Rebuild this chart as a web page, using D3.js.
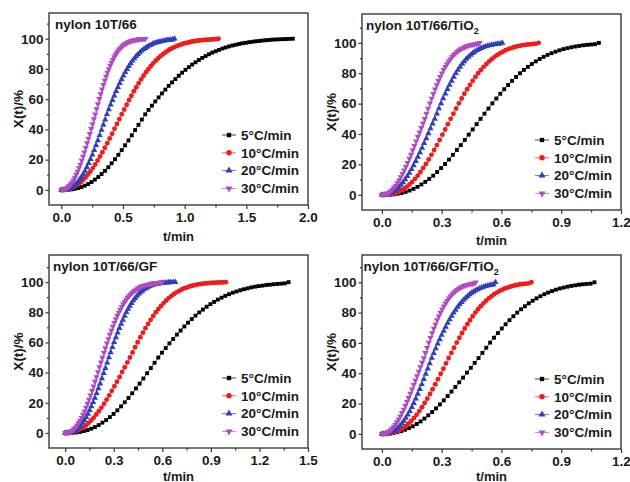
<!DOCTYPE html>
<html><head><meta charset="utf-8">
<script src="https://cdn.jsdelivr.net/npm/d3@7/dist/d3.min.js"></script>
<style>body{margin:0;background:#fff}</style>
</head><body><svg id="c" width="630" height="482"></svg>
<script>
// ---------- data ----------
const seriesLabels = ["5\u00B0C/min", "10\u00B0C/min", "20\u00B0C/min", "30\u00B0C/min"];
const panelTitles = ["nylon 10T/66", "nylon 10T/66/TiO", "nylon 10T/66/GF", "nylon 10T/66/GF/TiO"];
const panelSubs = ["", "2", "", "2"];
const yTicks = [0, 20, 40, 60, 80, 100];
const yMinor = [10, 30, 50, 70, 90, 110];
const p1XTicks = [0.0, 0.5, 1.0, 1.5, 2.0];
const p1XMinor = [0.25, 0.75, 1.25, 1.75];
const p2XTicks = [0.0, 0.3, 0.6, 0.9, 1.2];
const p2XMinor = [0.15, 0.45, 0.75, 1.05];
const p3XTicks = [0.0, 0.3, 0.6, 0.9, 1.2, 1.5];
const p3XMinor = [0.15, 0.45, 0.75, 1.05, 1.35];
const p4XTicks = [0.0, 0.3, 0.6, 0.9, 1.2];
const p4XMinor = [0.15, 0.45, 0.75, 1.05];

// time step (min) between successive points of each series: 5, 10, 20, 30 C/min
const p1Steps = [0.0272, 0.0196, 0.0148, 0.011];
const p2Steps = [0.0198, 0.0138, 0.0106, 0.0086];
const p3Steps = [0.023, 0.016, 0.0108, 0.0092];
const p4Steps = [0.0194, 0.0134, 0.01, 0.0084];

// X(t) % values
const p1Black = [0,0,0.1,0.3,0.7,1.2,1.9,2.8,3.9,5.2,6.8,8.5,10.5,12.6,15.0,17.6,20.3,23.2,26.3,29.5,32.7,36.1,39.6,43.0,46.5,50.0,
 52.9,55.7,58.5,61.2,63.8,66.3,68.8,71.1,73.3,75.5,77.5,79.4,81.2,82.9,84.4,85.9,87.3,88.5,89.7,90.8,91.7,92.6,93.5,94.2,94.9,95.5,96.0,96.5,97.0,97.3,97.7,98.0,98.3,98.5,98.8,99.0,99.2,99.4,99.5,99.6,99.7,99.8,99.9,100];
const p1Red = [0,0.1,0.2,0.6,1.1,1.8,2.7,3.8,5.0,6.5,8.2,10.1,12.2,14.4,16.8,19.4,22.1,24.9,27.9,30.9,34.0,37.1,40.4,43.6,46.8,50.0,
 53.2,56.3,59.4,62.3,65.2,67.9,70.6,73.1,75.5,77.8,79.9,81.8,83.7,85.4,86.9,88.4,89.7,90.9,92.0,93.0,93.8,94.6,95.3,95.9,96.5,97.0,97.4,97.7,98.1,98.3,98.6,98.8,99.0,99.2,99.3,99.4,99.5,99.6,99.7,100];
const p1Blue = [0,0,0.1,0.3,0.7,1.2,1.9,2.8,3.9,5.2,6.8,8.5,10.5,12.6,15.0,17.6,20.3,23.2,26.3,29.5,32.7,36.1,39.6,43.0,46.5,50.0,
 53.2,56.3,59.4,62.3,65.2,67.9,70.6,73.1,75.5,77.8,79.9,81.8,83.7,85.4,86.9,88.4,89.7,90.9,92.0,93.0,93.8,94.6,95.3,95.9,96.5,97.0,97.4,97.7,98.1,98.3,98.6,98.8,99.0,99.2,99.3,99.4,100];
const p1Purple = [0,0.1,0.2,0.6,1.1,1.8,2.7,3.8,5.0,6.5,8.2,10.1,12.2,14.4,16.8,19.4,22.1,24.9,27.9,30.9,34.0,37.1,40.4,43.6,46.8,50.0,
 53.4,56.8,60.2,63.4,66.5,69.5,72.3,75.0,77.6,80.0,82.2,84.2,86.1,87.8,89.4,90.8,92.1,93.2,94.2,95.1,95.9,96.5,97.1,97.6,98.0,98.4,98.7,98.9,99.1,99.3,99.5,99.6,99.7,99.8,99.8,99.9,100];

const p2Black = [0,0,0.1,0.3,0.7,1.2,1.9,2.8,3.9,5.2,6.8,8.5,10.5,12.6,15.0,17.6,20.3,23.2,26.3,29.5,32.7,36.1,39.6,43.0,46.5,50.0,
 53.4,56.8,60.2,63.4,66.5,69.5,72.3,75.0,77.6,80.0,82.2,84.2,86.1,87.8,89.4,90.8,92.1,93.2,94.2,95.1,95.9,96.5,97.1,97.6,98.0,98.4,98.7,98.9,99.1,100];
const p2Red = [0,0,0.1,0.3,0.7,1.2,1.9,2.8,3.9,5.2,6.8,8.5,10.5,12.6,15.0,17.6,20.3,23.2,26.3,29.5,32.7,36.1,39.6,43.0,46.5,50.0,
 53.4,56.8,60.2,63.4,66.5,69.5,72.3,75.0,77.6,80.0,82.2,84.2,86.1,87.8,89.4,90.8,92.1,93.2,94.2,95.1,95.9,96.5,97.1,97.6,98.0,98.4,98.7,98.9,99.1,99.3,99.5,100];
const p2Blue = [0,0.1,0.2,0.6,1.1,1.8,2.7,3.8,5.0,6.5,8.2,10.1,12.2,14.4,16.8,19.4,22.1,24.9,27.9,30.9,34.0,37.1,40.4,43.6,46.8,50.0,
 53.4,56.8,60.2,63.4,66.5,69.5,72.3,75.0,77.6,80.0,82.2,84.2,86.1,87.8,89.4,90.8,92.1,93.2,94.2,95.1,95.9,96.5,97.1,97.6,98.0,98.4,98.7,98.9,99.1,99.3,99.5,100];
const p2Purple = [0,0.1,0.3,0.8,1.5,2.3,3.4,4.7,6.1,7.8,9.6,11.6,13.8,16.1,18.5,21.1,23.8,26.5,29.4,32.3,35.2,38.1,41.1,44.1,47.0,50.0,
 53.4,56.8,60.2,63.4,66.5,69.5,72.3,75.0,77.6,80.0,82.2,84.2,86.1,87.8,89.4,90.8,92.1,93.2,94.2,95.1,95.9,96.5,97.1,97.6,98.0,98.4,98.7,98.9,99.1,99.3,99.5,100];

const p3Black = [0,0,0.1,0.3,0.7,1.2,1.9,2.8,3.9,5.2,6.8,8.5,10.5,12.6,15.0,17.6,20.3,23.2,26.3,29.5,32.7,36.1,39.6,43.0,46.5,50.0,
 53.2,56.3,59.4,62.3,65.2,67.9,70.6,73.1,75.5,77.8,79.9,81.8,83.7,85.4,86.9,88.4,89.7,90.9,92.0,93.0,93.8,94.6,95.3,95.9,96.5,97.0,97.4,97.7,98.1,98.3,98.6,98.8,99.0,99.2,100];
const p3Red = [0,0.1,0.2,0.6,1.1,1.8,2.7,3.8,5.0,6.5,8.2,10.1,12.2,14.4,16.8,19.4,22.1,24.9,27.9,30.9,34.0,37.1,40.4,43.6,46.8,50.0,
 53.4,56.8,60.2,63.4,66.5,69.5,72.3,75.0,77.6,80.0,82.2,84.2,86.1,87.8,89.4,90.8,92.1,93.2,94.2,95.1,95.9,96.5,97.1,97.6,98.0,98.4,98.7,98.9,99.1,99.3,99.5,99.6,99.7,99.8,99.8,99.9,100];
const p3Blue = [0,0,0.1,0.3,0.7,1.2,1.9,2.8,3.9,5.2,6.8,8.5,10.5,12.6,15.0,17.6,20.3,23.2,26.3,29.5,32.7,36.1,39.6,43.0,46.5,50.0,
 53.4,56.8,60.2,63.4,66.5,69.5,72.3,75.0,77.6,80.0,82.2,84.2,86.1,87.8,89.4,90.8,92.1,93.2,94.2,95.1,95.9,96.5,97.1,97.6,98.0,98.4,98.7,98.9,99.1,99.3,99.5,99.6,99.7,99.8,99.8,99.9,99.9,100];
const p3Purple = [0,0.1,0.2,0.6,1.1,1.8,2.7,3.8,5.0,6.5,8.2,10.1,12.2,14.4,16.8,19.4,22.1,24.9,27.9,30.9,34.0,37.1,40.4,43.6,46.8,50.0,
 53.2,56.3,59.4,62.3,65.2,67.9,70.6,73.1,75.5,77.8,79.9,81.8,83.7,85.4,86.9,88.4,89.7,90.9,92.0,93.0,93.8,94.6,95.3,95.9,96.5,97.0,97.4,97.7,98.1,98.3,98.6,98.8,99.0,99.2,99.3,99.4,99.5,99.6,99.7,100];

const p4Black = [0,0.1,0.2,0.6,1.1,1.8,2.7,3.8,5.0,6.5,8.2,10.1,12.2,14.4,16.8,19.4,22.1,24.9,27.9,30.9,34.0,37.1,40.4,43.6,46.8,50.0,
 53.4,56.8,60.2,63.4,66.5,69.5,72.3,75.0,77.6,80.0,82.2,84.2,86.1,87.8,89.4,90.8,92.1,93.2,94.2,95.1,95.9,96.5,97.1,97.6,98.0,98.4,98.7,98.9,99.1,100];
const p4Red = [0,0,0.1,0.3,0.7,1.2,1.9,2.8,3.9,5.2,6.8,8.5,10.5,12.6,15.0,17.6,20.3,23.2,26.3,29.5,32.7,36.1,39.6,43.0,46.5,50.0,
 53.4,56.8,60.2,63.4,66.5,69.5,72.3,75.0,77.6,80.0,82.2,84.2,86.1,87.8,89.4,90.8,92.1,93.2,94.2,95.1,95.9,96.5,97.1,97.6,98.0,98.4,98.7,98.9,99.1,99.3,100];
const p4Blue = [0,0,0.1,0.3,0.7,1.2,1.9,2.8,3.9,5.2,6.8,8.5,10.5,12.6,15.0,17.6,20.3,23.2,26.3,29.5,32.7,36.1,39.6,43.0,46.5,50.0,
 53.2,56.3,59.4,62.3,65.2,67.9,70.6,73.1,75.5,77.8,79.9,81.8,83.7,85.4,86.9,88.4,89.7,90.9,92.0,93.0,93.8,94.6,95.3,95.9,96.5,97.0,97.4,97.7,98.1,98.3,98.6,100];
const p4Purple = [0,0.1,0.3,0.8,1.5,2.3,3.4,4.7,6.1,7.8,9.6,11.6,13.8,16.1,18.5,21.1,23.8,26.5,29.4,32.3,35.2,38.1,41.1,44.1,47.0,50.0,
 53.4,56.8,60.2,63.4,66.5,69.5,72.3,75.0,77.6,80.0,82.2,84.2,86.1,87.8,89.4,90.8,92.1,93.2,94.2,95.1,95.9,96.5,97.1,97.6,98.0,98.4,98.7,98.9,99.1,99.3,100];

// ---------- styling / layout ----------
const FONT = "'Liberation Sans', Arial, Helvetica, sans-serif";
const colors = ["#000000", "#f01c1c", "#2f3fb8", "#b04cc0"];
const lineColors = ["#444444", "#f26060", "#6674cf", "#c67fd2"];
const symbolTypes = [d3.symbolSquare, d3.symbolCircle, d3.symbolTriangle, d3.symbolTriangle];
const symbolSizes = [15, 19, 17, 17];
const rotations = [0, 0, 0, 180];

const panels = [
  {title: panelTitles[0], sub: panelSubs[0], l: 49, t: 13, r: 308, b: 205, xd: [-0.1, 2.0], yd: [-10, 117],
   xt: p1XTicks, xm: p1XMinor, steps: p1Steps, data: [p1Black, p1Red, p1Blue, p1Purple], tx: 6, xty: 241},
  {title: panelTitles[1], sub: panelSubs[1], l: 362, t: 14, r: 621, b: 210, xd: [-0.1, 1.2], yd: [-10, 119],
   xt: p2XTicks, xm: p2XMinor, steps: p2Steps, data: [p2Black, p2Red, p2Blue, p2Purple], tx: 4, xty: 245},
  {title: panelTitles[2], sub: panelSubs[2], l: 49, t: 255, r: 308, b: 448, xd: [-0.1, 1.5], yd: [-10, 118],
   xt: p3XTicks, xm: p3XMinor, steps: p3Steps, data: [p3Black, p3Red, p3Blue, p3Purple], tx: 4, xty: 480.5},
  {title: panelTitles[3], sub: panelSubs[3], l: 362, t: 255, r: 621, b: 449, xd: [-0.1, 1.2], yd: [-10, 118],
   xt: p4XTicks, xm: p4XMinor, steps: p4Steps, data: [p4Black, p4Red, p4Blue, p4Purple], tx: 1.5, xty: 480.5}
];

const svg = d3.select("#c");
svg.append("rect").attr("width", 630).attr("height", 482).attr("fill", "#ffffff");

function styleAxis(g) {
  g.attr("font-family", FONT).attr("font-size", 13.5).attr("font-weight", "bold").attr("color", "#333");
  g.select(".domain").remove();
  g.selectAll("text").attr("fill", "#1a1a1a");
  g.selectAll("line").attr("stroke-width", 1.2);
}

panels.forEach(p => {
  const g = svg.append("g");
  const x = d3.scaleLinear().domain(p.xd).range([p.l, p.r]);
  const y = d3.scaleLinear().domain(p.yd).range([p.b, p.t]);

  // axes
  g.append("g").attr("transform", `translate(0,${p.b})`)
    .call(d3.axisBottom(x).tickValues(p.xt).tickFormat(d3.format(".1f")).tickSize(4).tickPadding(3.5))
    .call(styleAxis);
  g.append("g").attr("transform", `translate(0,${p.b})`)
    .call(d3.axisBottom(x).tickValues(p.xm).tickFormat("").tickSize(2.5))
    .call(styleAxis);
  g.append("g").attr("transform", `translate(${p.l},0)`)
    .call(d3.axisLeft(y).tickValues(yTicks).tickFormat(d3.format("d")).tickSize(3.5).tickPadding(2))
    .call(styleAxis);
  g.append("g").attr("transform", `translate(${p.l},0)`)
    .call(d3.axisLeft(y).tickValues(yMinor).tickFormat("").tickSize(2))
    .call(styleAxis);

  // frame
  g.append("rect").attr("x", p.l).attr("y", p.t).attr("width", p.r - p.l).attr("height", p.b - p.t)
    .attr("fill", "none").attr("stroke", "#3a3a3a").attr("stroke-width", 1.4);

  // series
  const plot = g.append("g");
  p.data.forEach((vals, si) => {
    const pts = vals.map((v, i) => [i * p.steps[si], v]);
    plot.append("path").datum(pts)
      .attr("d", d3.line().x(d => x(d[0])).y(d => y(d[1])))
      .attr("fill", "none").attr("stroke", lineColors[si]).attr("stroke-width", 0.9);
    const sym = d3.symbol().type(symbolTypes[si]).size(symbolSizes[si]);
    plot.selectAll(null).data(pts).enter().append("path")
      .attr("d", sym)
      .attr("transform", d => `translate(${x(d[0])},${y(d[1])}) rotate(${rotations[si]})`)
      .attr("fill", colors[si]);
  });

  // title
  const tt = g.append("text").attr("x", p.l + p.tx).attr("y", p.t + 15.5)
    .attr("font-family", FONT).attr("font-size", 13.5).attr("font-weight", "bold").attr("fill", "#1a1a1a")
    .text(p.title);
  if (p.sub) tt.append("tspan").attr("font-size", 9).attr("dy", 4).text(p.sub);

  // axis titles
  g.append("text").attr("x", (p.l + p.r) / 2).attr("y", p.xty).attr("text-anchor", "middle")
    .attr("font-family", FONT).attr("font-size", 13).attr("font-weight", "bold").attr("fill", "#1a1a1a")
    .text("t/min");
  g.append("text").attr("transform", `translate(${p.l - 30.5},${(p.t + p.b) / 2}) rotate(-90)`)
    .attr("text-anchor", "middle").attr("dy", "0.35em")
    .attr("font-family", FONT).attr("font-size", 13.5).attr("font-weight", "bold").attr("fill", "#1a1a1a")
    .text("X(t)/%");

  // legend
  const lg = g.append("g");
  seriesLabels.forEach((lab, si) => {
    const ly = p.b - 70 + si * 17.8;
    const sx = p.r - 79;
    lg.append("line").attr("x1", sx - 7).attr("x2", sx + 7).attr("y1", ly).attr("y2", ly)
      .attr("stroke", lineColors[si]).attr("stroke-width", 1);
    lg.append("path").attr("d", d3.symbol().type(symbolTypes[si]).size(symbolSizes[si] + 4))
      .attr("transform", `translate(${sx},${ly}) rotate(${rotations[si]})`).attr("fill", colors[si]);
    lg.append("text").attr("x", p.r - 67).attr("y", ly).attr("dy", "0.36em")
      .attr("font-family", FONT).attr("font-size", 13.5).attr("font-weight", "bold").attr("fill", "#1a1a1a")
      .text(lab);
  });
});
</script>
</body></html>
